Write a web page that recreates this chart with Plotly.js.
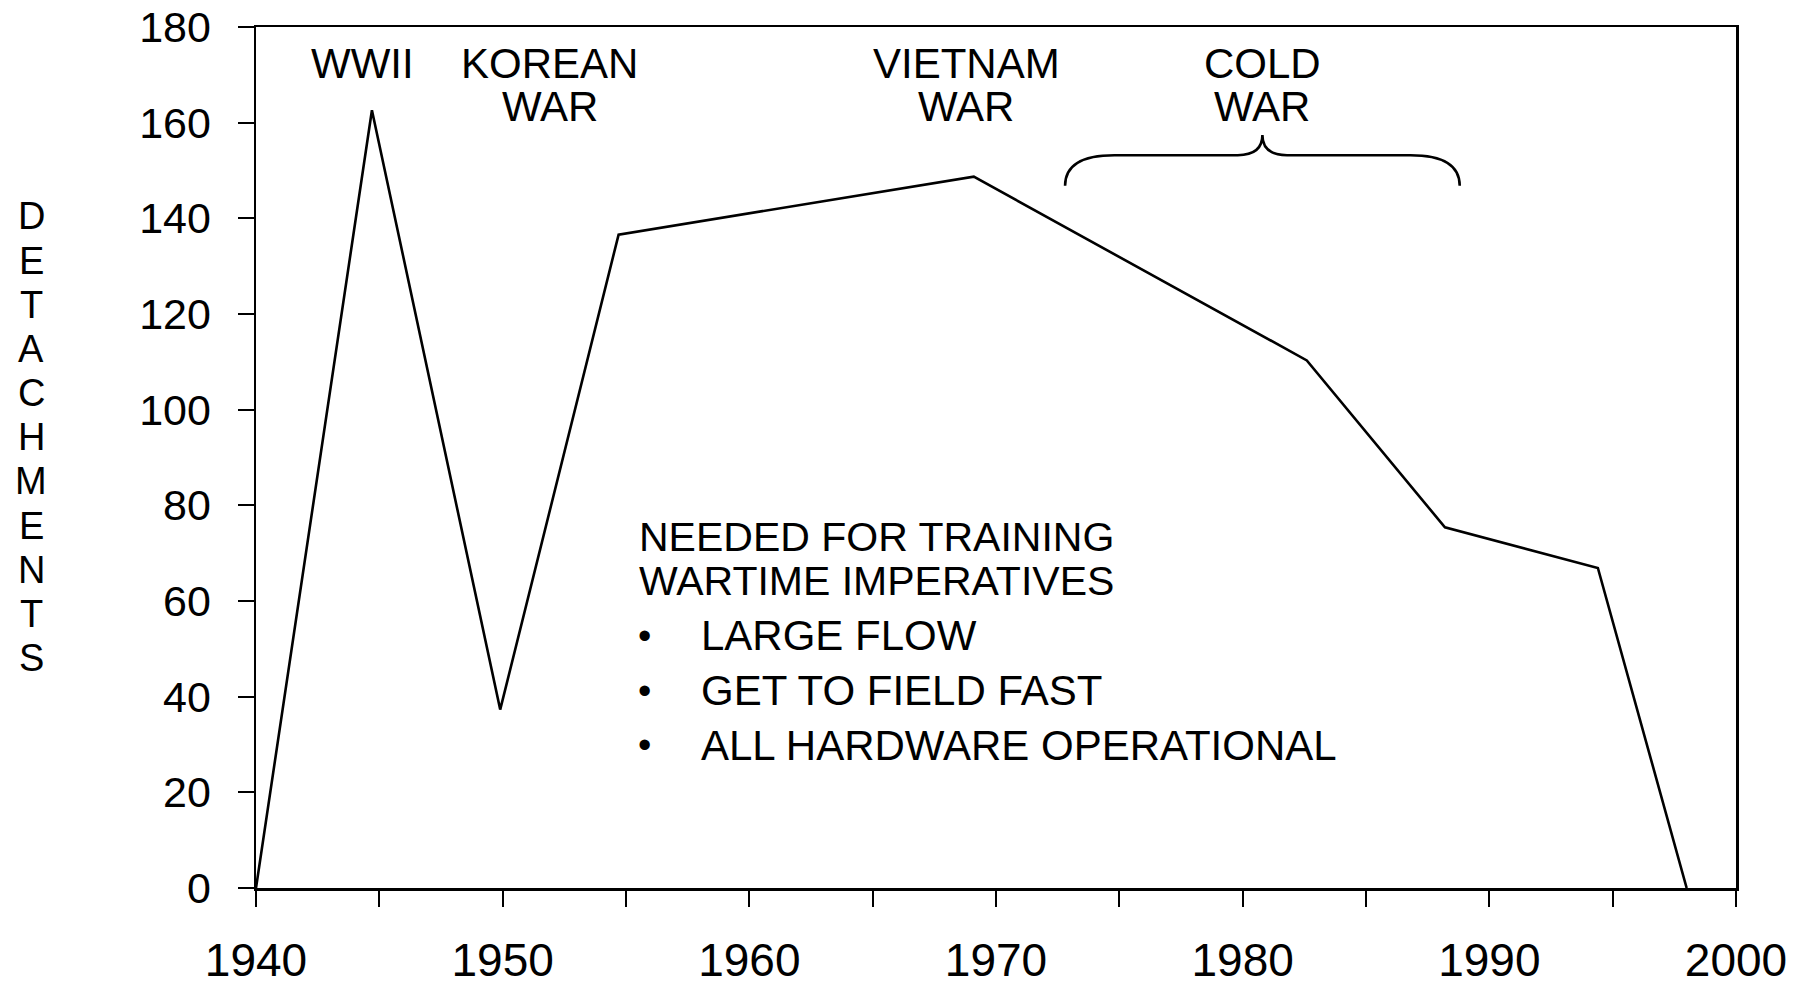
<!DOCTYPE html>
<html>
<head>
<meta charset="utf-8">
<script src="https://cdn.plot.ly/plotly-3.0.1.min.js"></script>
<style>
  html, body { margin: 0; padding: 0; background: #ffffff; }
  #chart { width: 1809px; height: 985px; }
</style>
</head>
<body>
<div id="chart"></div>
<script>
// ---- data ----
const years = [1940, 1944.7, 1949.9, 1954.7, 1969.1, 1982.6, 1988.2, 1994.4, 1998.0];
const detachments = [0, 162.6, 37.3, 136.6, 148.7, 110.3, 75.4, 66.9, 0];
const yTickVals = [0, 20, 40, 60, 80, 100, 120, 140, 160, 180];
const xTickVals = [1940, 1950, 1960, 1970, 1980, 1990, 2000];
const warLabels = [
  { lines: ["WWII"], x: 1944.3 },
  { lines: ["KOREAN", "WAR"], x: 1951.9 },
  { lines: ["VIETNAM", "WAR"], x: 1968.8 },
  { lines: ["COLD", "WAR"], x: 1980.8 }
];
const noteHeader = ["NEEDED FOR TRAINING", "WARTIME IMPERATIVES"];
const noteBullets = ["LARGE FLOW", "GET TO FIELD FAST", "ALL HARDWARE OPERATIONAL"];
const yAxisTitle = "DETACHMENTS";

const FONT = "Liberation Sans, Arial, Helvetica, sans-serif";

const trace = {
  x: years,
  y: detachments,
  type: "scatter",
  mode: "lines",
  line: { color: "#000000", width: 2.6 },
  hoverinfo: "x+y",
  cliponaxis: false
};

const annotations = [];
// war labels
const lineY = [172.3, 163.4];
warLabels.forEach(w => {
  w.lines.forEach((t, i) => {
    annotations.push({
      x: w.x, y: lineY[i], xref: "x", yref: "y",
      text: t, showarrow: false, xanchor: "center", yanchor: "middle",
      font: { family: FONT, size: 42, color: "#000" }
    });
  });
});
// note block
const headerY = [73.3, 64.2];
noteHeader.forEach((t, i) => {
  annotations.push({
    x: 1955.45, y: headerY[i], xref: "x", yref: "y",
    text: t, showarrow: false, xanchor: "left", yanchor: "middle",
    font: { family: FONT, size: 41, color: "#000" }
  });
});
const bulletY = [52.7, 41.2, 29.8];
noteBullets.forEach((t, i) => {
  annotations.push({
    x: 1955.75, y: bulletY[i], xref: "x", yref: "y",
    text: "•", showarrow: false, xanchor: "center", yanchor: "middle",
    font: { family: FONT, size: 38, color: "#000" }
  });
  annotations.push({
    x: 1957.96, y: bulletY[i], xref: "x", yref: "y",
    text: t, showarrow: false, xanchor: "left", yanchor: "middle",
    font: { family: FONT, size: 42, color: "#000" }
  });
});
// vertical stacked axis title, one letter per row
const titleLetters = yAxisTitle.split("");
const titleTop = 0.7800, titleStep = 0.0513;
titleLetters.forEach((ch, i) => {
  annotations.push({
    x: -0.152, y: titleTop - i * titleStep, xref: "paper", yref: "paper",
    text: ch, showarrow: false, xanchor: "center", yanchor: "middle",
    font: { family: FONT, size: 38, color: "#000" }
  });
});

// curly brace over the Cold War span (data coordinates)
const bx0 = 1972.8, bx1 = 1988.8, bxm = 1980.8;
const byEnd = 146.8, byH = 153.2, byTip = 157.4;
const bracePath =
  `M ${bx0},${byEnd} Q ${bx0},${byH} ${bx0 + 2},${byH} ` +
  `L ${bxm - 1},${byH} Q ${bxm},${byH} ${bxm},${byTip} ` +
  `Q ${bxm},${byH} ${bxm + 1},${byH} ` +
  `L ${bx1 - 2},${byH} Q ${bx1},${byH} ${bx1},${byEnd}`;

const layout = {
  width: 1809, height: 985,
  margin: { l: 256, r: 73, t: 27, b: 97, pad: 0 },
  paper_bgcolor: "#ffffff", plot_bgcolor: "#ffffff",
  showlegend: false,
  font: { family: FONT, color: "#000" },
  xaxis: {
    range: [1940, 2000],
    tickvals: xTickVals,
    ticks: "outside", ticklen: 16, tickwidth: 2, tickcolor: "#000",
    minor: { dtick: 5, ticks: "outside", ticklen: 16, tickwidth: 2, tickcolor: "#000", showgrid: false },
    showline: true, linecolor: "#000", linewidth: 2.5, mirror: true,
    showgrid: false, zeroline: false,
    tickfont: { family: FONT, size: 46, color: "#000" },
    ticklabelstandoff: 14
  },
  yaxis: {
    range: [0, 180],
    tickvals: yTickVals,
    ticks: "outside", ticklen: 16, tickwidth: 2, tickcolor: "#000",
    showline: true, linecolor: "#000", linewidth: 2.5, mirror: true,
    showgrid: false, zeroline: false,
    tickfont: { family: FONT, size: 43, color: "#000" },
    ticklabelstandoff: 18
  },
  shapes: [{
    type: "path", xref: "x", yref: "y", path: bracePath,
    line: { color: "#000", width: 2.6 }
  }],
  annotations: annotations
};

Plotly.newPlot("chart", [trace], layout, { displayModeBar: false, staticPlot: true });
</script>
</body>
</html>
